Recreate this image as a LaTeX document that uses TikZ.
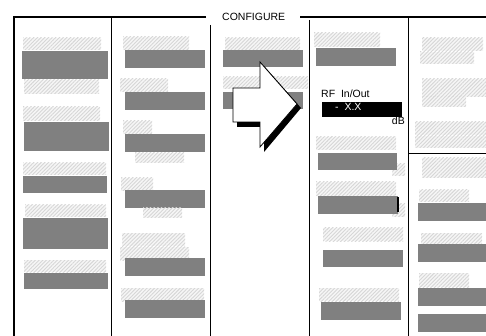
\documentclass[tikz,border=0pt]{standalone}
\usepackage{fontspec}
\setmainfont{Liberation Sans}
\usetikzlibrary{patterns.meta}
\definecolor{barg}{HTML}{808080}
\tikzset{
  graybar/.style={fill=barg},
  hatchbar/.style={preaction={fill=gray!7},pattern={Lines[angle=45,distance=2.6pt,line width=0.9pt]},pattern color=gray!32},
  framethick/.style={line width=2.6pt},
  framethin/.style={line width=1pt},
  lbl/.style={inner sep=0pt,font=\fontsize{10.5}{12}\selectfont}
}
\newcommand\HatchR[4]{\path[hatchbar] (#1,#2) rectangle (#3,#4);}
\newcommand\GrayR[4]{\fill[graybar] (#1,#2) rectangle (#3,#4);}
\begin{document}
\begin{tikzpicture}[x=1pt,y=-1pt]
\useasboundingbox (0,0) rectangle (486,336);
\fill[white] (0,0) rectangle (486,336);
% column 1
\HatchR{23}{38}{101}{50}
\GrayR{22}{51}{108}{79}
\HatchR{24}{80}{99}{94}
\HatchR{23}{107}{100}{121}
\GrayR{24}{122}{109}{151}
\HatchR{23}{163}{106}{175}
\GrayR{23}{176}{107}{193}
\HatchR{25}{205}{106}{217}
\GrayR{23}{218}{108}{249}
\HatchR{24}{260}{106}{272}
\GrayR{24}{273}{108}{289}
% column 2
\HatchR{123}{37}{189}{50}
\GrayR{125}{50}{205}{68}
\HatchR{120}{79}{168}{92}
\GrayR{125}{92}{205}{110}
\HatchR{123}{121}{152}{134}
\GrayR{125}{134}{205}{152}
\HatchR{135}{153}{184}{163}
\HatchR{121}{178}{153}{191}
\GrayR{125}{190}{205}{208}
\HatchR{143}{208}{182}{218}
\HatchR{122}{233}{185}{246}
\HatchR{120}{247}{189}{260}
\GrayR{125}{258}{205}{276}
\HatchR{121}{288}{204}{301}
\GrayR{125}{300}{205}{318}
% column 3
\HatchR{225}{38}{300}{50}
\GrayR{223}{50}{303}{67}
\HatchR{223}{77}{308}{89}
\GrayR{223}{92}{303}{109}
% column 4
\HatchR{314}{33}{380}{47}
\GrayR{316}{48}{396}{66}
\HatchR{316}{137}{396}{150}
\HatchR{392}{164}{405}{176}
\GrayR{318}{153}{397}{170}
\HatchR{316}{182}{396}{196}
\HatchR{392}{204}{405}{217}
\GrayR{318}{196}{398}{214}
\fill[black] (397,197) rectangle (399,212);
\HatchR{323}{228}{403}{241}
\GrayR{323}{250}{403}{267}
\HatchR{319}{288}{399}{301}
\GrayR{321}{302}{401}{320}
% column 5
\HatchR{422}{38}{483}{51}
\HatchR{420}{52}{474}{64}
\HatchR{422}{79}{486}{97}
\HatchR{422}{97}{466}{107}
\HatchR{415}{122}{486}{135}
\HatchR{415}{136}{486}{148}
\HatchR{422}{158}{486}{178}
\HatchR{419}{190}{469}{202}
\GrayR{418}{203}{486}{221}
\HatchR{421}{233}{482}{244}
\GrayR{418}{244}{486}{262}
\HatchR{419}{273}{469}{287}
\GrayR{418}{288}{486}{306}
\GrayR{418}{314}{486}{332}
% frame lines
\draw[framethick] (206,17) -- (14,17) -- (14,336);
\draw[framethick] (300,17) -- (486,17);
\draw[framethin] (111,17) -- (111,336);
\draw[framethin] (210,25) -- (210,336);
\draw[framethin] (309.5,20) -- (309.5,336);
\draw[framethin] (408.5,17) -- (408.5,336);
\draw[framethin] (408.5,154) -- (486,154);
% arrow with shadow
\fill[black] (237,92) -- (264,92) -- (264,66) -- (301,108) -- (264,152) -- (264,127) -- (237,127) -- cycle;
\filldraw[fill=white,draw=black,line width=0.8pt] (233,88) -- (260,88) -- (260,62) -- (297,104) -- (260,147) -- (260,122) -- (233,122) -- cycle;
% texts
\node[lbl,anchor=base west] (cfg) at (222,21) {CONFIGURE};
\node[lbl,anchor=base west] (rf) at (321,97.5) {RF\ \ In/Out};
\fill[black] (322,102) rectangle (402,117);
\node[lbl,anchor=base west,text=white] (val) at (335,110.5) {-\ \ X.X};
\node[lbl,anchor=base east] (db) at (405,124.5) {dB};
\end{tikzpicture}
\end{document}
